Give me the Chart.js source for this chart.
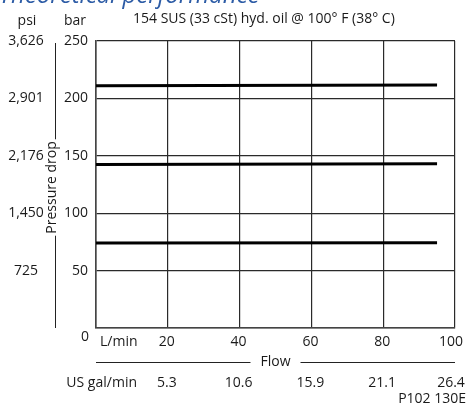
<!DOCTYPE html>
<html>
<head>
<meta charset="utf-8">
<script src="https://cdn.jsdelivr.net/npm/chart.js@4"></script>
<style>
html,body{margin:0;padding:0;background:#fff;}
#wrap{width:471px;height:408px;position:relative;}
</style>
</head>
<body>
<div id="wrap"><canvas id="c" width="471" height="408"></canvas></div>
<script>
// ---- data ----
const flowLpm = [0, 95];
const seriesHigh = [211, 211.6];
const seriesMid = [142.4, 143];
const seriesLow = [74, 74.2];
const lpmTicks = [20, 40, 60, 80, 100];
const galTicks = ['5.3', '10.6', '15.9', '21.1', '26.4'];
const barTicks = [50, 100, 150, 200, 250];
const psiTicks = ['725', '1,450', '2,176', '2,901', '3,626'];
const titleText = 'Theoretical performance';
const subtitleText = '154 SUS (33 cSt) hyd. oil @ 100° F (38° C)';
const yAxisTitle = 'Pressure drop';
const xAxisTitle = 'Flow';
const codeText = 'P102 130E';

const FONT = '"Open Sans", "DejaVu Sans", sans-serif';

function pts(ys) { return flowLpm.map((x, i) => ({x: x, y: ys[i]})); }

const textPlugin = {
  id: 'texts',
  afterDraw(chart) {
    const ctx = chart.ctx;
    const xs = chart.scales.x, ys = chart.scales.y;
    const ca = chart.chartArea;
    ctx.save();
    // title
    ctx.fillStyle = '#2d5ca6';
    ctx.font = 'italic 24px ' + FONT;
    ctx.textAlign = 'left';
    ctx.textBaseline = 'alphabetic';
    ctx.fillText(titleText, -1, 3);

    ctx.fillStyle = '#1a1a1a';
    ctx.font = '14px ' + FONT;
    ctx.textBaseline = 'middle';
    // unit headers
    ctx.textAlign = 'center';
    ctx.fillText('psi', 27, 21);
    ctx.fillText('bar', 75, 21);
    // subtitle
    ctx.textAlign = 'left';
    ctx.fillText(subtitleText, 133, 19);

    // y tick labels
    barTicks.forEach((v, i) => {
      const py = ys.getPixelForValue(v);
      ctx.textAlign = 'right';
      ctx.fillText(String(v), 88, py);
      ctx.textAlign = 'center';
      ctx.fillText(psiTicks[i], 26, py);
    });
    ctx.textAlign = 'center';
    ctx.fillText('0', 85, ys.getPixelForValue(0) + 9);

    // y axis title with line
    const midY = (ca.top + ca.bottom) / 2 + 3;
    ctx.save();
    ctx.translate(52, midY);
    ctx.rotate(-Math.PI / 2);
    ctx.textAlign = 'center';
    ctx.fillText(yAxisTitle, 0, 0);
    const tw = ctx.measureText(yAxisTitle).width;
    ctx.restore();
    ctx.strokeStyle = '#222';
    ctx.lineWidth = 1;
    ctx.beginPath();
    ctx.moveTo(55.5, ca.top + 2);
    ctx.lineTo(55.5, midY - tw / 2 - 2);
    ctx.moveTo(55.5, midY + tw / 2 + 2);
    ctx.lineTo(55.5, ca.bottom);
    ctx.stroke();

    // x tick labels
    const rowL = ca.bottom + 14;
    const rowG = ca.bottom + 55;
    ctx.textAlign = 'left';
    ctx.fillText('L/min', 100, rowL);
    ctx.textAlign = 'right';
    ctx.fillText('US gal/min', 137, rowG);
    ctx.textAlign = 'center';
    lpmTicks.forEach((v, i) => {
      const px = xs.getPixelForValue(v);
      const off = (i === lpmTicks.length - 1) ? -4 : -1;
      ctx.fillText(String(v), px + off, rowL);
      ctx.fillText(galTicks[i], px + off, rowG);
    });

    // Flow title with lines
    const rowF = ca.bottom + 34;
    const cx = (ca.left + ca.right) / 2;
    ctx.fillText(xAxisTitle, cx, rowF);
    const fw = ctx.measureText(xAxisTitle).width;
    ctx.beginPath();
    ctx.moveTo(ca.left, rowF + 0.5);
    ctx.lineTo(cx - fw / 2 - 10, rowF + 0.5);
    ctx.moveTo(cx + fw / 2 + 10, rowF + 0.5);
    ctx.lineTo(ca.right, rowF + 0.5);
    ctx.stroke();

    // code
    ctx.textAlign = 'right';
    ctx.fillText(codeText, 466, ca.bottom + 71);
    ctx.restore();
  }
};

const lineStyle = {borderColor: '#000', borderWidth: 3, pointRadius: 0, fill: false, tension: 0};

new Chart(document.getElementById('c'), {
  type: 'scatter',
  data: {
    datasets: [
      Object.assign({label: 'high', data: pts(seriesHigh), showLine: true}, lineStyle),
      Object.assign({label: 'mid', data: pts(seriesMid), showLine: true}, lineStyle),
      Object.assign({label: 'low', data: pts(seriesLow), showLine: true}, lineStyle)
    ]
  },
  options: {
    responsive: false,
    animation: false,
    devicePixelRatio: 1,
    layout: {padding: {left: 96, right: 16, top: 41, bottom: 80}},
    plugins: {legend: {display: false}, tooltip: {enabled: false}, title: {display: false}},
    scales: {
      x: {
        type: 'linear', min: 0, max: 100,
        ticks: {display: false, stepSize: 20},
        grid: {color: '#2a2a2a', lineWidth: 1.2, drawTicks: false},
        border: {color: '#444', width: 1.6}
      },
      y: {
        type: 'linear', min: 0, max: 250,
        ticks: {display: false, stepSize: 50},
        grid: {color: '#2a2a2a', lineWidth: 1.2, drawTicks: false},
        border: {color: '#444', width: 1.6}
      }
    }
  },
  plugins: [textPlugin]
});
</script>
</body>
</html>
